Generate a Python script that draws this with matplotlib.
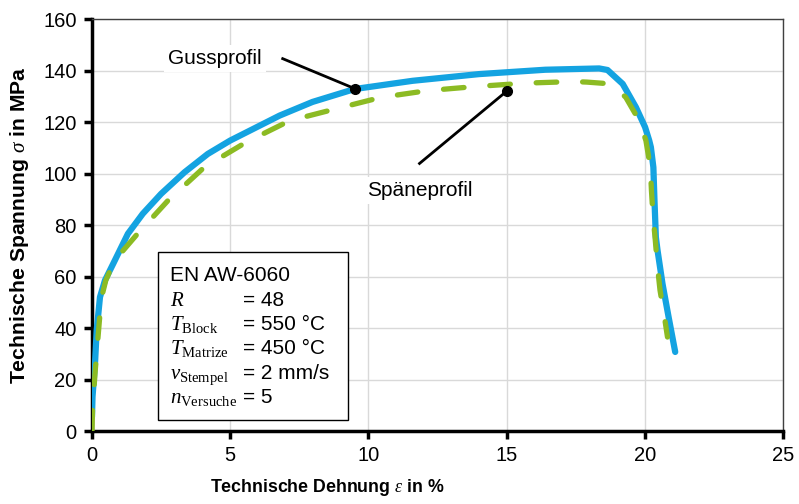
import matplotlib
matplotlib.use("Agg")
import matplotlib.pyplot as plt
from matplotlib.patches import Rectangle

plt.rcParams["font.family"] = ["Liberation Sans", "DejaVu Sans"]
plt.rcParams["mathtext.fontset"] = "custom"
plt.rcParams["mathtext.rm"] = "Liberation Serif"
plt.rcParams["mathtext.it"] = "Liberation Serif:italic"

# Gussprofil (blue, solid)
guss_eps = [0, 0.02, 0.11, 0.17, 0.29, 0.47, 0.77, 1.30, 1.84, 2.50, 3.35, 4.19, 5.0,
            6.79, 7.98, 9.5, 11.6, 14.0, 16.4, 18.35, 18.65, 19.2, 19.68, 20.01,
            20.16, 20.22, 20.31, 20.35, 20.4, 20.46, 20.64, 20.86, 21.1]
guss_sig = [5.5, 13.3, 26.2, 39, 52, 58.5, 65, 76.6, 84.4, 92.1, 100.5, 107.6, 112.8,
            122.5, 127.8, 132.8, 136, 138.6, 140.3, 140.8, 140.2, 134.8, 125.7, 118,
            112.8, 110.2, 102.4, 89.5, 75.3, 70.2, 57.2, 44.3, 30.7]

# Späneprofil (green, dashed)
spaene_eps = [0, 0.02, 0.11, 0.27, 0.35, 0.5, 0.71, 1.0, 1.6, 2.75, 4.07, 5.57, 7.15,
              8.78, 10.47, 12.15, 13.9, 15.7, 17.4, 17.9, 18.77, 19.31, 19.8, 20.04,
              20.2, 20.24, 20.3, 20.37, 20.46, 20.55, 20.71, 20.82]
spaene_sig = [0, 8, 22.4, 43, 52, 58.5, 63.7, 68.5, 76, 89.5, 102.5, 112.1, 120.5,
              125, 129.6, 132.2, 133.8, 135.1, 135.7, 135.5, 134.8, 129.6, 120.5, 112.8,
              102.4, 93.4, 83, 75.3, 63.7, 54.7, 44.3, 36.5]

info_labels = ["EN AW-6060", "$R$", "$T_{\\mathrm{Block}}$", "$T_{\\mathrm{Matrize}}$",
               "$v_{\\mathrm{Stempel}}$", "$n_{\\mathrm{Versuche}}$"]
info_values = ["", "= 48", "= 550 °C", "= 450 °C", "= 2 mm/s", "= 5"]

fig = plt.figure(figsize=(7.99, 5.04), dpi=100)
ax = fig.add_axes([0.1151, 0.1448, 0.8649, 0.8175])

ax.plot(guss_eps, guss_sig, color="#14a3e1", lw=4.5, solid_capstyle="round",
        solid_joinstyle="round", zorder=3)
ax.plot(spaene_eps, spaene_sig, color="#8cbb23", lw=3.8, ls=(0, (3.9, 4.9)),
        dash_capstyle="round", dash_joinstyle="round", zorder=4)

ax.set_xlim(0, 25)
ax.set_ylim(0, 160)
ax.set_xticks(range(0, 26, 5))
ax.set_yticks(range(0, 161, 20))
ax.grid(True, color="#d9d9d9", lw=1)
ax.set_axisbelow(True)

for s in ["left", "bottom"]:
    ax.spines[s].set_linewidth(2.5)
    ax.spines[s].set_color("black")
for s in ["top", "right"]:
    ax.spines[s].set_linewidth(1)
    ax.spines[s].set_color("#404040")
ax.tick_params(axis="both", direction="out", length=6, width=2.5, labelsize=14.5, pad=5)

ax.set_xlabel("Technische Dehnung $\\varepsilon$ in %", fontsize=12.8, fontweight="bold")
ax.set_ylabel("Technische Spannung $\\sigma$ in MPa", fontsize=15.2, fontweight="bold")
ax.xaxis.set_label_coords(0.34, -0.112)
ax.yaxis.set_label_coords(-0.088, 0.5)

# annotations
ax.plot([6.9, 9.5], [144.6, 133], color="black", lw=2, zorder=5)
ax.plot([9.5], [133], "o", color="black", ms=7, zorder=6)
ax.text(4.44, 144.6, "Gussprofil", fontsize=15, ha="center", va="center",
        bbox=dict(facecolor="white", edgecolor="none", pad=3), zorder=5)

ax.plot([11.85, 15.03], [103.9, 132.2], color="black", lw=2, zorder=5)
ax.plot([15.03], [132.2], "o", color="black", ms=7, zorder=6)
ax.text(11.85, 93.4, "Späneprofil", fontsize=15, ha="center", va="center",
        bbox=dict(facecolor="white", edgecolor="none", pad=3), zorder=5)

# info box
ax.add_patch(Rectangle((2.38, 4.3), 6.87, 65.1, facecolor="white", edgecolor="black",
                       lw=1, zorder=5))
baselines = [58.1, 48.4, 39.1, 29.8, 20.2, 10.9]
for lab, val, yb in zip(info_labels, info_values, baselines):
    ax.text(2.82, yb, lab, fontsize=15, ha="left", va="baseline", zorder=6)
    if val:
        ax.text(5.46, yb, val, fontsize=15, ha="left", va="baseline", zorder=6)

fig.savefig("out.png", dpi=100)
